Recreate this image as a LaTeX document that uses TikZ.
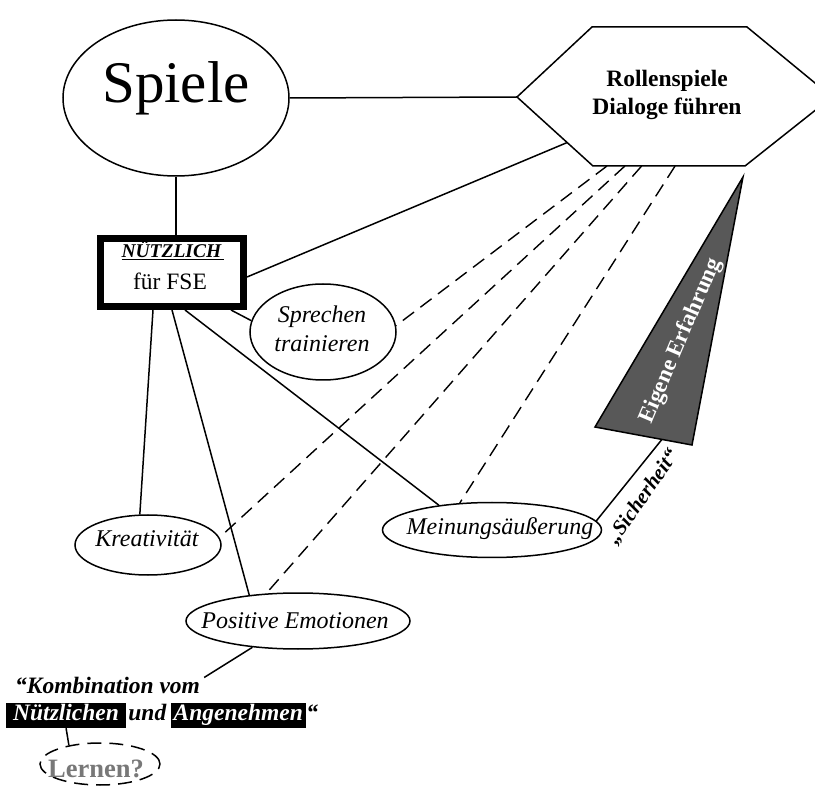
\documentclass[tikz,border=0pt]{standalone}
\usepackage{fontspec}
\setmainfont{Liberation Serif}
\usetikzlibrary{shapes.geometric,calc}
\definecolor{trifill}{RGB}{88,88,88}
\definecolor{lerngray}{RGB}{120,120,120}
\newcommand\kombfont{\fontsize{23.5}{27}\selectfont\bfseries\itshape}
\begin{document}
\begin{tikzpicture}[x=1pt,y=-1pt,
  line/.style={line width=1.5pt},
  ell/.style={ellipse, draw, line width=1.5pt, inner sep=0pt},
  dsh/.style={line width=1.4pt, dash pattern=on 14pt off 8pt},
  itl/.style={font=\fontsize{24}{28}\selectfont\itshape, inner sep=0pt, anchor=base},
  blk/.style={fill=black, text=white, font=\kombfont, inner xsep=7pt, inner ysep=1pt,
              text height=16pt, text depth=7pt, anchor=base west},
  plain/.style={inner sep=0pt, anchor=base}]
\useasboundingbox (0,0) rectangle (815,786);

% Spiele
\node[ell, minimum width=226pt, minimum height=156pt] (spiele) at (176,98) {};
\node[plain, font=\fontsize{59}{60}\selectfont] (spieletxt) at (176,103) {Spiele};

% hexagon
\coordinate (hL) at (517,97);
\coordinate (hTL) at (592,27);
\coordinate (hTR) at (747,27);
\coordinate (hR) at (832,97);
\coordinate (hBR) at (745,166);
\coordinate (hBL) at (593,166);
\draw[line] (hL) -- (hTL) -- (hTR) -- (hR) -- (hBR) -- (hBL) -- cycle;
\node[plain, font=\fontsize{23.5}{28}\selectfont\bfseries] (rolle1) at (667,87) {Rollenspiele};
\node[plain, font=\fontsize{23.5}{28}\selectfont\bfseries] (rolle2) at (667,115) {Dialoge führen};

% box
\node[draw, line width=7pt, minimum width=143pt, minimum height=68pt, inner sep=0pt] (box) at (172,272.5) {};
\node[plain, font=\fontsize{19.5}{21}\selectfont\bfseries\itshape] (nuetz) at (173,258) {\underline{NÜTZLICH\,}};
\node[plain, font=\fontsize{23.5}{26}\selectfont] (fse) at (170,290) {für FSE};

% ellipses
\node[ell, minimum width=146pt, minimum height=96pt] (spr) at (323,332) {};
\node[ell, minimum width=146pt, minimum height=60pt] (kre) at (148,545) {};
\node[ell, minimum width=224pt, minimum height=56pt] (pos) at (298,621) {};
\node[ell, minimum width=219pt, minimum height=55pt] (mei) at (492,530) {};
\node[itl] (sprt1) at (322,323) {Sprechen};
\node[itl] (sprt2) at (322,352) {trainieren};
\node[itl] (kret) at (147,547) {Kreativität};
\node[itl] (post) at (295,628) {Positive Emotionen};
\node[itl] (meit) at (500,535) {Meinungsäußerung};

% triangle
\coordinate (tT) at (743,177);
\coordinate (tBL) at (595,427);
\coordinate (tBR) at (692,445);
\draw[line, fill=trifill] (tT) -- (tBL) -- (tBR) -- cycle;
\node[font=\fontsize{23}{25}\selectfont\bfseries, text=white, rotate=67, inner sep=0pt] (eig) at (681,341) {Eigene Erfahrung};

% solid connectors
\draw[line] (spiele.east) -- (hL);
\draw[line] (spiele.south) -- (spiele.south |- box.north);
\draw[line] ($(box.east)+(0,4.5)$) -- ($(hL)!0.66!(hBL)$);
\draw[line] ($(box.south)+(-19,0)$) -- (kre.105);
\draw[line] (box.south) -- (pos.152);
\draw[line] ($(box.south)+(13,0)$) -- (mei.155);
\draw[line] ($(box.south east)+(-16,0)$) -- (spr.171);
\draw[line] (mei.5) -- ($(tBL)!0.69!(tBR)$);

% dashed connectors
\draw[dsh] ($(hBL)!0.092!(hBR)$) -- (spr.5);
\draw[dsh] ($(hBL)!0.21!(hBR)$) -- (kre.6);
\draw[dsh] ($(hBL)!0.32!(hBR)$) -- (pos.139);
\draw[dsh] ($(hBL)!0.54!(hBR)$) -- (mei.140);

% Sicherheit
\node[font=\fontsize{21}{24}\selectfont\bfseries\itshape, rotate=55, inner sep=0pt] (sich) at (643,497) {„Sicherheit“};

% Kombination
\node[font=\kombfont, anchor=base west, inner sep=0pt] (komb) at (15,693) {“Kombination vom};
\draw[line] (pos.210) -- ($(komb.north east)+(4,1)$);
\node[blk] (nue) at (6,720) {Nützlichen};
\node[font=\kombfont, anchor=base west, inner sep=0pt] (und) at ([xshift=2pt]nue.base east) {und};
\node[blk, inner xsep=3pt] (ang) at ([xshift=4pt]und.base east) {Angenehmen};
\node[font=\kombfont, anchor=base west, inner sep=0pt] (q2) at (ang.base east) {“};

% Lernen
\node[ell, dash pattern=on 14pt off 8pt, minimum width=120pt, minimum height=42pt] (lern) at (100,764) {};
\node[plain, font=\fontsize{26.5}{28}\selectfont\bfseries, text=lerngray] (lernt) at (96,777) {Lernen?};
\draw[line] (nue.south) -- (lern.149);
\end{tikzpicture}
\end{document}
